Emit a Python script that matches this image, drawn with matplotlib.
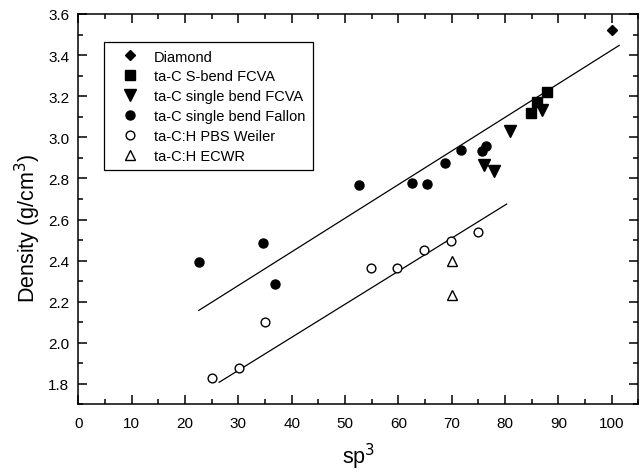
import numpy as np
import matplotlib
matplotlib.use('Agg')
import matplotlib.pyplot as plt
from matplotlib.ticker import MultipleLocator, FormatStrFormatter

plt.rcParams['font.family'] = ['Liberation Sans', 'DejaVu Sans']

# ---- data ----
diamond_x = [100]
diamond_y = [3.52]

sbend_x = [84.8, 86.0, 87.9]
sbend_y = [3.12, 3.17, 3.22]

single_fcva_x = [76.0, 78.0, 81.0, 86.9]
single_fcva_y = [2.865, 2.835, 3.03, 3.135]

fallon_x = [22.7, 34.6, 36.9, 52.7, 62.6, 65.3, 68.8, 71.8, 75.6, 76.4]
fallon_y = [2.395, 2.485, 2.285, 2.77, 2.78, 2.775, 2.875, 2.94, 2.935, 2.96]

weiler_x = [25.1, 30.2, 35.0, 54.9, 59.8, 64.9, 69.8, 75.0]
weiler_y = [1.83, 1.88, 2.10, 2.365, 2.365, 2.45, 2.495, 2.54]

ecwr_x = [70.0, 70.0]
ecwr_y = [2.40, 2.235]

# fit lines (end points)
fit_upper_x = [22.6, 101.4]
fit_upper_y = [2.158, 3.447]
fit_lower_x = [26.4, 80.3]
fit_lower_y = [1.808, 2.675]

fig = plt.figure(figsize=(6.42, 4.77), dpi=100)
ax = fig.add_axes([0.122, 0.1499, 0.8723, 0.8187])

ax.plot(fit_upper_x, fit_upper_y, color='black', lw=0.9)
ax.plot(fit_lower_x, fit_lower_y, color='black', lw=0.9)

ax.plot(diamond_x, diamond_y, 'D', color='black', ms=5.2, ls='none', label='Diamond')
ax.plot(sbend_x, sbend_y, 's', color='black', ms=6.8, ls='none', label='ta-C S-bend FCVA')
ax.plot(single_fcva_x, single_fcva_y, 'v', color='black', ms=8, ls='none', label='ta-C single bend FCVA')
ax.plot(fallon_x, fallon_y, 'o', color='black', ms=6.5, ls='none', label='ta-C single bend Fallon')
ax.plot(weiler_x, weiler_y, 'o', mfc='white', mec='black', mew=1.0, ms=6.3, ls='none', label='ta-C:H PBS Weiler')
ax.plot(ecwr_x, ecwr_y, '^', mfc='white', mec='black', mew=1.0, ms=7, ls='none', label='ta-C:H ECWR')

ax.set_xlim(0, 105)
ax.set_ylim(1.7, 3.6)
ax.xaxis.set_major_locator(MultipleLocator(10))
ax.xaxis.set_minor_locator(MultipleLocator(5))
ax.yaxis.set_minor_locator(MultipleLocator(0.1))
ax.set_yticks(np.arange(1.8, 3.61, 0.2))
ax.yaxis.set_major_formatter(FormatStrFormatter('%.1f'))

ax.tick_params(which='both', direction='in', top=True, right=True, labelsize=11, width=1.1)
ax.tick_params(which='major', length=6.5)
ax.tick_params(which='minor', length=3.3)
ax.tick_params(axis='x', which='major', pad=8)
ax.tick_params(axis='y', which='major', pad=6.5)
for sp in ax.spines.values():
    sp.set_linewidth(1.1)

ax.set_xlabel('sp$^3$', fontsize=15.5, labelpad=8)
ax.set_ylabel('Density (g/cm$^3$)', fontsize=15.5)
ax.yaxis.label.set_verticalalignment('center')
ax.yaxis.set_label_coords(-0.0907, 0.4545)

leg = ax.legend(loc='upper left', bbox_to_anchor=(0.0464, 0.9275), fontsize=10.5,
                frameon=True, fancybox=False, edgecolor='black', framealpha=1,
                handlelength=2.5, handletextpad=0.4, borderpad=0.5,
                labelspacing=0.4, borderaxespad=0)
leg.get_frame().set_linewidth(0.9)

fig.savefig('out.png', dpi=100)
